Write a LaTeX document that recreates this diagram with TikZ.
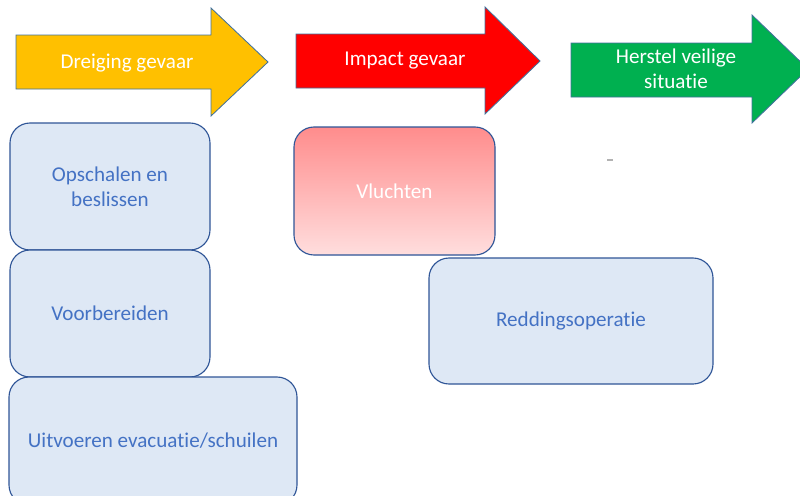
\documentclass[tikz,border=0pt]{standalone}
\usepackage{fontspec}
\setmainfont{Carlito}[Ligatures=NoCommon]
\usepackage{tikz}
\definecolor{pijlgeel}{HTML}{FFC000}
\definecolor{pijlrood}{HTML}{FF0000}
\definecolor{pijlgroen}{HTML}{00B050}
\definecolor{pijlrand}{HTML}{41719C}
\definecolor{blokvul}{HTML}{DEE8F5}
\definecolor{blokrand}{HTML}{2F5597}
\definecolor{bloktekst}{HTML}{4472C4}
\tikzset{
  pijl/.style={draw=pijlrand,line width=0.6pt},
  pijltekst/.style={text=white,align=center,font=\fontsize{15}{18}\selectfont},
  blok/.style={draw=blokrand,line width=0.8pt,rounded corners=0.5cm,fill=blokvul,
    text=bloktekst,align=center,font=\fontsize{15}{18}\selectfont,inner sep=0pt},
}
\begin{document}
\begin{tikzpicture}[x=0.025cm,y=-0.025cm]
			\useasboundingbox (0,0) rectangle (800,495);
			\clip (0,0) rectangle (800,495);
			% pijlen bovenaan
			\draw[pijl,fill=pijlgeel] (16,35) -- (211,35) -- (211,8) -- (268,62) -- (211,116) -- (211,89) -- (16,89) -- cycle;
			\node[pijltekst] (dreiging) at (127,63) {Dreiging gevaar};
			\draw[pijl,fill=pijlrood] (296,34) -- (485,34) -- (485,7) -- (540,61) -- (485,114) -- (485,88) -- (296,88) -- cycle;
			\node[pijltekst] (impact) at (405,61) {Impact gevaar};
			\draw[pijl,fill=pijlgroen] (571,43) -- (752,43) -- (752,15) -- (808,69) -- (752,123) -- (752,97) -- (571,97) -- cycle;
			\node[pijltekst] (herstel) at (676,69) {Herstel veilige\\situatie};
			% blokken
			\node[blok,minimum width=200*0.025cm,minimum height=127*0.025cm] (opschalen) at (110,186.5) {Opschalen en\\beslissen};
			\node[blok,minimum width=200*0.025cm,minimum height=127*0.025cm] (voorbereiden) at (110,313.5) {Voorbereiden};
			\node[blok,minimum width=288*0.025cm,minimum height=128*0.025cm] (uitvoeren) at (153,441) {Uitvoeren evacuatie/schuilen};
			\node[blok,top color=red!45,bottom color=red!13,text=white,minimum width=201*0.025cm,minimum height=128*0.025cm] (vluchten) at (394.5,191) {Vluchten};
			\node[blok,minimum width=284*0.025cm,minimum height=126*0.025cm] (redding) at (571,321) {Reddingsoperatie};
			\draw[gray!60,line width=0.8pt] (607,160) -- (613,160);
\end{tikzpicture}
\end{document}
